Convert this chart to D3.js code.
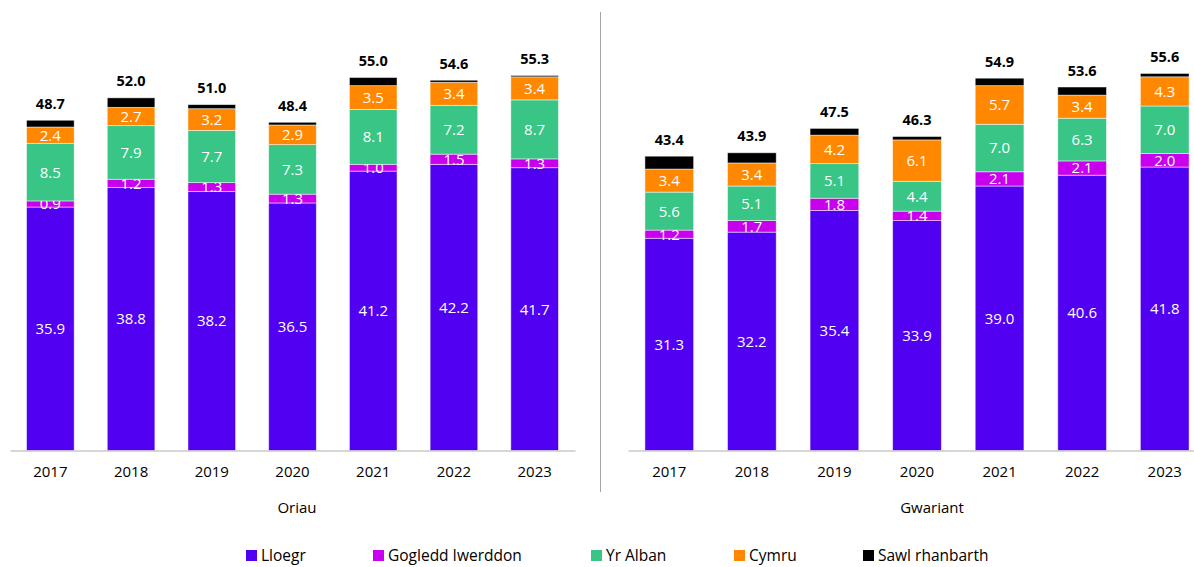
<!DOCTYPE html>
<html>
<head>
<meta charset="utf-8">
<script src="https://cdn.jsdelivr.net/npm/d3@7"></script>
<style>
  body { margin: 0; background: #fff; }
  text { font-family: "Open Sans", sans-serif; }
</style>
</head>
<body>
<svg id="chart" width="1194" height="567"></svg>
<script>
const years = ['2017', '2018', '2019', '2020', '2021', '2022', '2023'];
const seriesNames = ['Lloegr', 'Gogledd Iwerddon', 'Yr Alban', 'Cymru', 'Sawl rhanbarth'];
const seriesColors = ['#5200f2', '#c800ee', '#38c585', '#ff8800', '#000000'];

// Oriau
const oriauLloegr = [35.9, 38.8, 38.2, 36.5, 41.2, 42.2, 41.7];
const oriauGogledd = [0.9, 1.2, 1.3, 1.3, 1.0, 1.5, 1.3];
const oriauAlban = [8.5, 7.9, 7.7, 7.3, 8.1, 7.2, 8.7];
const oriauCymru = [2.4, 2.7, 3.2, 2.9, 3.5, 3.4, 3.4];
const oriauSawl = [1.0, 1.4, 0.6, 0.4, 1.2, 0.3, 0.2];
const oriauTotals = [48.7, 52.0, 51.0, 48.4, 55.0, 54.6, 55.3];

// Gwariant
const gwariantLloegr = [31.3, 32.2, 35.4, 33.9, 39.0, 40.6, 41.8];
const gwariantGogledd = [1.2, 1.7, 1.8, 1.4, 2.1, 2.1, 2.0];
const gwariantAlban = [5.6, 5.1, 5.1, 4.4, 7.0, 6.3, 7.0];
const gwariantCymru = [3.4, 3.4, 4.2, 6.1, 5.7, 3.4, 4.3];
const gwariantSawl = [1.9, 1.5, 1.0, 0.5, 1.1, 1.2, 0.5];
const gwariantTotals = [43.4, 43.9, 47.5, 46.3, 54.9, 53.6, 55.6];

const svg = d3.select('#chart');
const y = d3.scaleLinear().domain([0, 60]).range([450.5, 43.6]);

const panels = [
  {title: 'Oriau', titleX: 297, x0: 10, x1: 575, series: [oriauLloegr, oriauGogledd, oriauAlban, oriauCymru, oriauSawl], totals: oriauTotals},
  {title: 'Gwariant', titleX: 932, x0: 628, x1: 1206, series: [gwariantLloegr, gwariantGogledd, gwariantAlban, gwariantCymru, gwariantSawl], totals: gwariantTotals}
];

panels.forEach(p => {
  const x = d3.scaleBand().domain(years).range([p.x0, p.x1]).paddingInner(0.41).paddingOuter(0.205);
  const rows = years.map((yr, i) => {
    const row = {year: yr};
    seriesNames.forEach((s, j) => { row[s] = p.series[j][i]; });
    return row;
  });
  const stacked = d3.stack().keys(seriesNames)(rows);
  const g = svg.append('g');

  const layers = g.selectAll('g.layer')
    .data(stacked)
    .join('g')
    .attr('class', 'layer')
    .attr('fill', (d, i) => seriesColors[i]);

  layers.selectAll('rect')
    .data(d => d)
    .join('rect')
    .attr('x', d => x(d.data.year))
    .attr('width', x.bandwidth())
    .attr('y', d => y(d[1]))
    .attr('height', d => y(d[0]) - y(d[1]))
    .attr('stroke', 'rgba(255,255,255,0.6)')
    .attr('stroke-width', 0.8);

  // segment labels (not for the black series)
  layers.filter((d, i) => i < 4)
    .selectAll('text')
    .data(d => d.map(v => ({v, key: d.key})))
    .join('text')
    .attr('x', d => x(d.v.data.year) + x.bandwidth() / 2)
    .attr('y', d => (y(d.v[0]) + y(d.v[1])) / 2)
    .attr('dy', '0.36em')
    .attr('text-anchor', 'middle')
    .attr('fill', '#fff')
    .attr('font-size', 15)
    .text(d => d3.format('.1f')(d.v.data[d.key]));

  // totals
  g.selectAll('text.total')
    .data(rows)
    .join('text')
    .attr('class', 'total')
    .attr('x', d => x(d.year) + x.bandwidth() / 2)
    .attr('y', (d, i) => y(stacked[4][i][1]) - 11.5)
    .attr('text-anchor', 'middle')
    .attr('font-size', 14.5)
    .attr('font-weight', 'bold')
    .attr('fill', '#000')
    .text((d, i) => d3.format('.1f')(p.totals[i]));

  const axis = g.append('g')
    .attr('transform', `translate(0,${y(0)})`)
    .call(d3.axisBottom(x).tickSize(0).tickPadding(16));
  axis.select('.domain').attr('stroke', '#b0b0b0').attr('stroke-width', 1.2);
  axis.selectAll('text').attr('font-size', 15).attr('fill', '#000')
    .style('font-family', '"Open Sans", sans-serif');

  g.append('text')
    .attr('x', p.titleX)
    .attr('y', 508)
    .attr('dy', '0.36em')
    .attr('text-anchor', 'middle')
    .attr('font-size', 15)
    .text(p.title);
});

// divider
svg.append('line')
  .attr('x1', 600.5).attr('x2', 600.5)
  .attr('y1', 12).attr('y2', 492)
  .attr('stroke', '#a6a6a6')
  .attr('stroke-width', 1);

// legend
const legendX = [246, 373, 591, 734, 863];
const legend = svg.append('g')
  .selectAll('g')
  .data(seriesNames)
  .join('g')
  .attr('transform', (d, i) => `translate(${legendX[i]},550)`);
legend.append('rect')
  .attr('width', 11).attr('height', 11)
  .attr('fill', (d, i) => seriesColors[i]);
legend.append('text')
  .attr('x', 15).attr('y', 5.5)
  .attr('dy', '0.36em')
  .attr('font-size', 15.5)
  .text(d => d);
</script>
</body>
</html>
